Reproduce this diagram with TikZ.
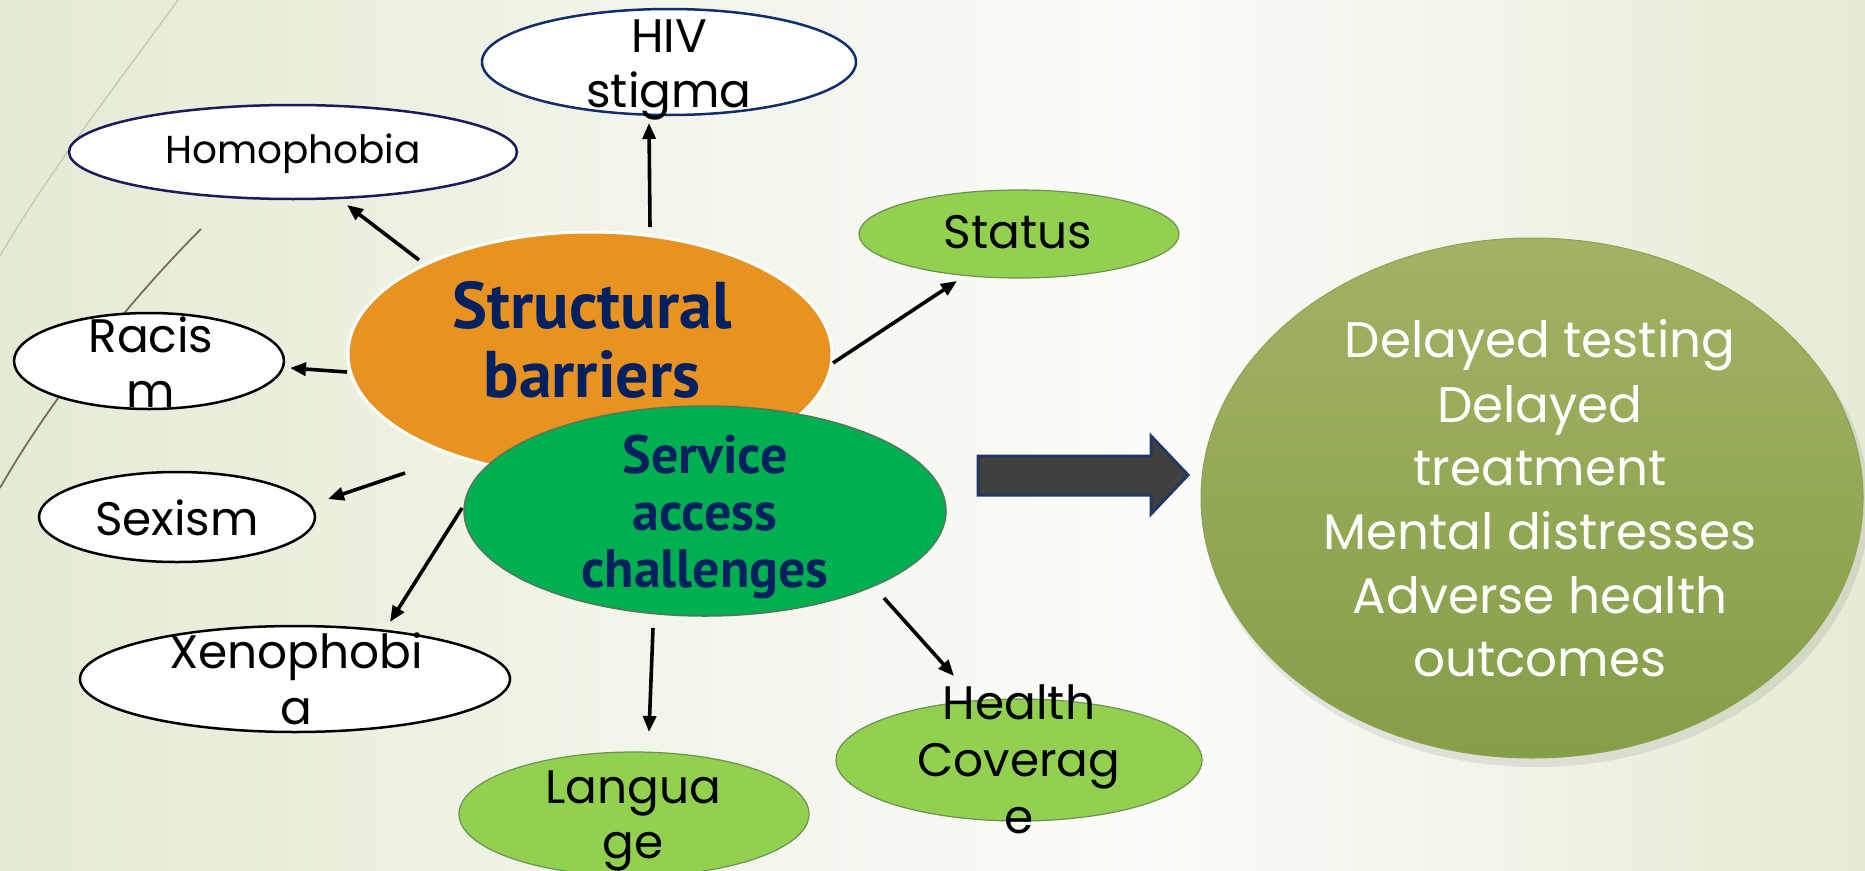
\documentclass[tikz,border=0pt]{standalone}
\usepackage{fontspec}
\newfontfamily\pop{Poppins}
\newfontfamily\ptsans{PT Sans}
\usetikzlibrary{shapes.geometric,arrows.meta,calc}
\definecolor{navy}{HTML}{002060}
\definecolor{orng}{RGB}{232,146,34}
\definecolor{sacgreen}{HTML}{00B050}
\definecolor{sacline}{RGB}{80,120,95}
\definecolor{lightgr}{HTML}{92D050}
\definecolor{lgline}{RGB}{110,145,80}
\definecolor{homline}{RGB}{28,26,90}
\definecolor{hivline}{RGB}{15,46,107}
\definecolor{outtop}{RGB}{161,179,100}
\definecolor{outbot}{RGB}{134,158,72}
\definecolor{outline}{RGB}{140,162,82}
\definecolor{bgL}{RGB}{228,235,212}
\definecolor{bgM}{RGB}{252,252,250}
\definecolor{bgR}{RGB}{229,235,213}
\definecolor{wispA}{RGB}{200,202,180}
\definecolor{wispB}{RGB}{120,110,88}
\definecolor{arrgray}{RGB}{64,64,64}
\definecolor{arrline}{HTML}{1F3864}
\begin{document}
\begin{tikzpicture}[x=1pt,y=-1pt,
  ell/.style={ellipse, inner sep=0pt, outer sep=0pt},
  whiteell/.style={ell, fill=white, draw=black, line width=2.5pt},
  lgell/.style={ell, fill=lightgr, draw=lgline, line width=1.2pt},
  arr/.style={line width=3.6pt, -{Triangle[length=16pt,width=13pt]}},
  tx/.style={anchor=base, inner sep=0pt, font=\pop\fontsize{47}{56}\selectfont},
  txs/.style={anchor=base, inner sep=0pt, font=\pop\fontsize{39}{47}\selectfont},
  bx/.style={anchor=base, inner sep=0pt, text=navy, font=\ptsans\bfseries\fontsize{66}{70}\selectfont},
  bxs/.style={anchor=base, inner sep=0pt, text=navy, font=\ptsans\bfseries\fontsize{54}{60}\selectfont},
  wt/.style={anchor=base, inner sep=0pt, text=white, font=\pop\fontsize{50}{64}\selectfont}]
\useasboundingbox (0,0) rectangle (1865,870);
\clip (0,0) rectangle (1865,870);
\shade[left color=bgL, right color=bgM] (0,0) rectangle (1150,870);
\shade[left color=bgM, right color=bgR] (1149,0) rectangle (1865,870);
% wisps
\draw[wispA, line width=1.5pt] (178,0) .. controls (120,80) and (50,170) .. (0,256);
\draw[wispB, line width=1.8pt] (201,229) .. controls (130,300) and (50,400) .. (0,488);
% outcome ellipse
\fill[black, opacity=0.08] (1536,505) ellipse [x radius=333pt, y radius=262pt];
\node[ell, top color=outtop, bottom color=outbot, draw=outline, line width=1pt,
      minimum width=662pt, minimum height=520pt] (out) at (1532,498) {};
% satellite ellipses
\node[whiteell, draw=homline, minimum width=448pt, minimum height=94pt] (hom) at (293,152) {};
\node[whiteell, draw=hivline, minimum width=374pt, minimum height=106pt] (hiv) at (669,62) {};
\node[whiteell, minimum width=270pt, minimum height=96pt] (rac) at (149,361) {};
\node[whiteell, minimum width=276pt, minimum height=90pt] (sex) at (177,517) {};
\node[whiteell, minimum width=430pt, minimum height=106pt] (xen) at (295,679) {};
\node[lgell, minimum width=320pt, minimum height=88pt] (sta) at (1019,234) {};
\node[lgell, minimum width=350pt, minimum height=124pt] (lan) at (634,814) {};
\node[lgell, minimum width=366pt, minimum height=122pt] (hea) at (1019,760) {};
% central ellipses
\node[ell, fill=orng, draw=white, line width=3pt, minimum width=484pt, minimum height=244pt] (sb) at (590,354) {};
\node[ell, fill=sacgreen, draw=sacline, line width=1.5pt, minimum width=482pt, minimum height=210pt] (sac) at (705,511) {};
% arrows
\draw[arr] ($(sb.center)+(-171,-94)$) -- ($(hom.center)+(54,53)$);
\draw[arr] ($(sb.center)+(60,-127)$) -- ($(hiv.center)+(-20,61)$);
\draw[arr] ($(sb.center)+(-243,18)$) -- ($(rac.center)+(141,7)$);
\draw[arr] ($(sb.center)+(243,9)$) -- ($(sta.center)+(-62,47)$);
\draw[arr] ($(sb.center)+(-185,119)$) -- ($(sex.center)+(151,-18)$);
\draw[arr] ($(sb.center)+(-128,154)$) -- ($(xen.center)+(95,-57)$);
\draw[arr] ($(sac.center)+(-52,117)$) -- ($(lan.center)+(15,-82)$);
\draw[arr] ($(sac.center)+(179,87)$) -- ($(hea.center)+(-65,-84)$);
% big arrow
\draw[fill=arrgray, draw=arrline, line width=3pt, line join=miter]
  (978,456) -- (1151,456) -- (1151,436) -- (1188,475) -- (1151,514) -- (1151,495) -- (978,495) -- cycle;
% texts
\node[tx] (t1) at (669,52) {HIV};
\node[tx] (t2) at (669,107) {stigma};
\node[txs] (t3) at (293,163) {Homophobia};
\node[tx] (t4) at (151,352) {Racis};
\node[tx] (t5) at (151,407) {m};
\node[tx] (t6) at (177,535) {Sexism};
\node[tx] (t7) at (296,668) {Xenophobi};
\node[tx] (t8) at (296,724) {a};
\node[tx] (t9) at (633,803) {Langua};
\node[tx] (t10) at (633,858) {ge};
\node[tx] (t11) at (1018,248) {Status};
\node[tx] (t12) at (1019,719) {Health};
\node[tx] (t13) at (1019,776) {Coverag};
\node[tx] (t14) at (1019,833) {e};
\node[bx] (t15) at (592,328) {Structural};
\node[bx] (t16) at (592,397) {barriers};
\node[bxs] (t17) at (705,473) {Service};
\node[bxs] (t18) at (705,530) {access};
\node[bxs] (t19) at (705,587) {challenges};
\node[wt] (t20) at (1540,357) {Delayed testing};
\node[wt] (t21) at (1540,422) {Delayed};
\node[wt] (t22) at (1540,485) {treatment};
\node[wt] (t23) at (1540,549) {Mental distresses};
\node[wt] (t24) at (1540,613) {Adverse health};
\node[wt] (t25) at (1540,676) {outcomes};
\end{tikzpicture}
\end{document}
